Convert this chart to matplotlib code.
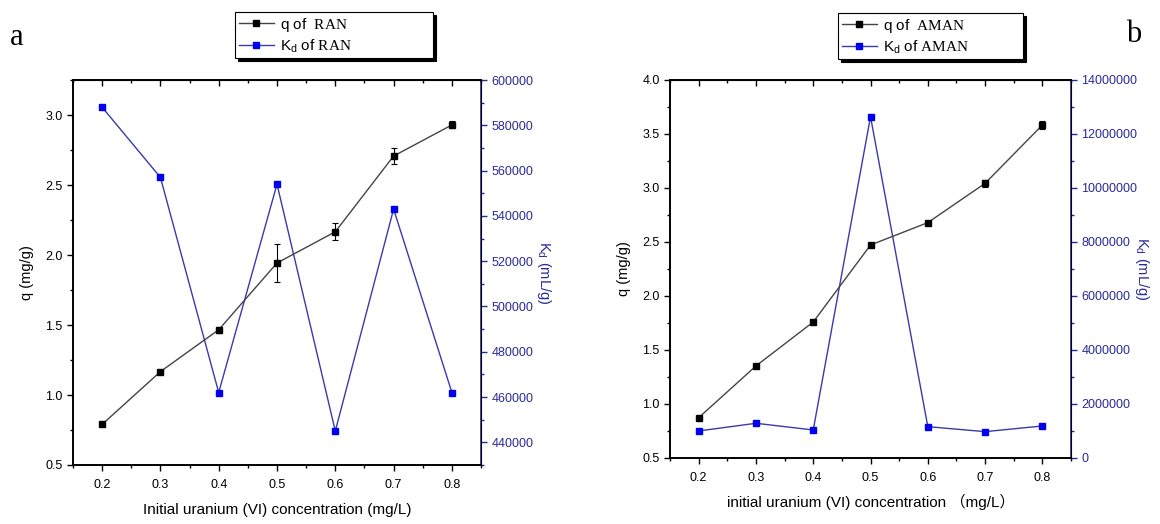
import numpy as np
import matplotlib.pyplot as plt
from matplotlib.ticker import MultipleLocator
from matplotlib.lines import Line2D

plt.rcParams["font.family"] = ["Liberation Sans", "Noto Sans CJK SC"]
plt.rcParams["font.size"] = 9
plt.rcParams["mathtext.fontset"] = "custom"
plt.rcParams["mathtext.rm"] = "Liberation Serif"
plt.rcParams["mathtext.sf"] = "Liberation Sans"

#=====================#
conc = [0.2, 0.3, 0.4, 0.5, 0.6, 0.7, 0.8]

q_ran = [0.79, 1.167, 1.466, 1.943, 2.166, 2.707, 2.929]
q_ran_err = [0.0, 0.0, 0.02, 0.134, 0.06, 0.055, 0.025]
kd_ran = [588000, 557000, 462000, 554000, 445000, 543000, 462000]

q_aman = [0.873, 1.352, 1.759, 2.472, 2.679, 3.043, 3.583]
q_aman_err = [0.0, 0.0, 0.0, 0.0, 0.0, 0.03, 0.04]
kd_aman = [1000000, 1285000, 1037000, 12640000, 1160000, 975000, 1185000]
#=====================#

KD_LINE = "#3a3aaa"
KD_MARK = "#0000ee"
Q_LINE = "#444444"
AX_BLUE = "#2a2a9a"

fig = plt.figure(figsize=(11.6, 5.24), dpi=100)


def panel(rect, q, qerr, kd, qlim, qstep, kdlim, kdstep, name, xlabel, leg_box, xpad, kpad):
    ax = fig.add_axes(rect)
    ax2 = ax.twinx()
    ax.set_zorder(ax2.get_zorder() + 1)
    ax.patch.set_visible(False)

    ax2.plot(conc, kd, color=KD_LINE, lw=1.0, marker="s", ms=5,
             mfc=KD_MARK, mec=KD_MARK)
    ax.errorbar(conc, q, yerr=qerr, color=Q_LINE, lw=1.0, marker="s", ms=5,
                mfc="black", mec="black", ecolor="black", elinewidth=0.8,
                capsize=2, capthick=0.8)

    ax.set_xlim(0.15, 0.85)
    ax.set_xticks(conc)
    ax.xaxis.set_minor_locator(MultipleLocator(0.05))
    ax.set_ylim(*qlim)
    ax.yaxis.set_major_locator(MultipleLocator(qstep))
    ax.yaxis.set_minor_locator(MultipleLocator(qstep / 2))
    ax.set_ylabel("q (mg/g)", fontsize=10.5, labelpad=8)
    ax.set_xlabel(xlabel, fontsize=11, labelpad=xpad)
    ax.tick_params(axis="both", which="major", direction="out", length=4, width=1)
    ax.tick_params(axis="both", which="minor", direction="out", length=2.5, width=1)
    ax.tick_params(axis="x", which="major", pad=6)

    top = ax.secondary_xaxis("top")
    top.set_xticks(conc)
    top.xaxis.set_minor_locator(MultipleLocator(0.05))
    top.tick_params(which="both", direction="in", labeltop=False, width=1)
    top.tick_params(which="major", length=4)
    top.tick_params(which="minor", length=2.5)

    ax2.set_ylim(*kdlim)
    ax2.yaxis.set_major_locator(MultipleLocator(kdstep))
    ax2.yaxis.set_minor_locator(MultipleLocator(kdstep / 2))
    ax2.ticklabel_format(axis="y", style="plain", useOffset=False)
    ax2.tick_params(axis="y", which="both", colors=AX_BLUE, direction="out", width=1)
    ax2.tick_params(axis="y", which="major", length=4)
    ax2.tick_params(axis="y", which="minor", length=2.5)
    ax2.spines["right"].set_color(AX_BLUE)
    ax2.spines["right"].set_linewidth(1.2)
    ax2.set_ylabel(r"K$_\mathsf{d}$ (mL/g)", color=AX_BLUE, rotation=270,
                   labelpad=kpad, fontsize=10.5)

    for s in ["left", "bottom", "top"]:
        ax.spines[s].set_linewidth(1.2)
        ax2.spines[s].set_linewidth(1.2)

    h1 = Line2D([], [], color=Q_LINE, lw=1.0, marker="s", ms=5, mfc="black", mec="black")
    h2 = Line2D([], [], color=KD_LINE, lw=1.0, marker="s", ms=5, mfc=KD_MARK, mec=KD_MARK)
    leg = ax.legend([h1, h2],
                    [r"q of  $\mathrm{" + name + "}$", r"K$_\mathsf{d}$ of $\mathrm{" + name + "}$"],
                    bbox_to_anchor=leg_box, bbox_transform=fig.transFigure,
                    loc="upper left", mode="expand", fancybox=False,
                    shadow={"color": "black", "alpha": 1.0},
                    edgecolor="black", framealpha=1, fontsize=11,
                    handlelength=2.3, handletextpad=0.4, borderpad=0.25,
                    labelspacing=0.2, borderaxespad=0)
    leg.get_frame().set_linewidth(0.8)
    return ax, ax2


panel([0.0629, 0.1126, 0.3518, 0.7347], q_ran, q_ran_err, kd_ran,
      (0.5, 3.25), 0.5, (430000, 600000), 20000, "RAN",
      "Initial uranium (VI) concentration (mg/L)",
      (235 / 1160, 1 - 64 / 524, 198 / 1160, 52 / 524), 9, 14)

panel([0.5776, 0.1260, 0.3457, 0.7214], q_aman, q_aman_err, kd_aman,
      (0.5, 4.0), 0.5, (0, 14000000), 2000000, "AMAN",
      "initial uranium (VI) concentration \uff08mg/L\uff09",
      (838 / 1160, 1 - 66 / 524, 185 / 1160, 53 / 524), 7, 10)

fig.text(10 / 1160, 1 - 45 / 524, "a", fontsize=22, family="Liberation Serif")
fig.text(1126 / 1160, 1 - 42 / 524, "b", fontsize=22, family="Liberation Serif")

fig.savefig("out.png", dpi=100)
